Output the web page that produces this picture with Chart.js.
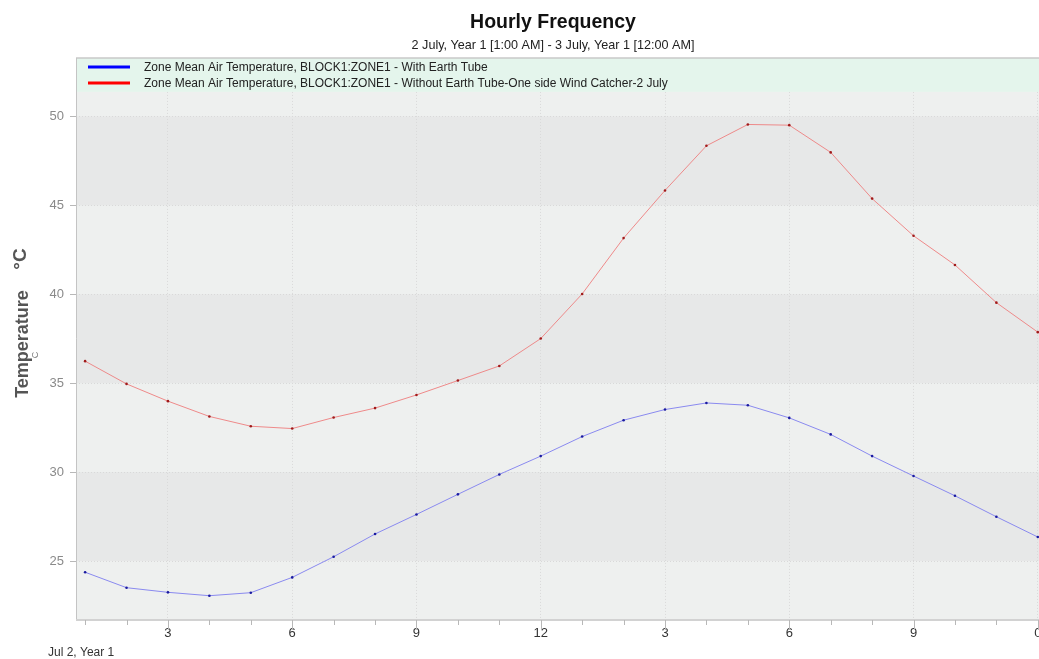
<!DOCTYPE html>
<html>
<head>
<meta charset="utf-8">
<title>Hourly Frequency</title>
<script src="https://cdn.jsdelivr.net/npm/chart.js@4.4.1/dist/chart.umd.min.js"></script>
<style>
    html, body { margin: 0; padding: 0; background: #fff; overflow: hidden; }
    #wrap { width: 1106px; height: 659px; }
</style>
</head>
<body>
<div id="wrap"><canvas id="tempChart"></canvas></div>
<script>
// Data (hour of day, 1:00 .. 24:00)
const hours = [1, 2, 3, 4, 5, 6, 7, 8, 9, 10, 11, 12, 13, 14, 15, 16, 17, 18, 19, 20, 21, 22, 23, 24];
const withEarthTube = [24.37, 23.50, 23.24, 23.05, 23.22, 24.08, 25.24, 26.52, 27.62, 28.75, 29.87, 30.90,
                       32.00, 32.92, 33.52, 33.89, 33.76, 33.05, 32.12, 30.90, 29.78, 28.67, 27.49, 26.35];
const withoutEarthTube = [36.24, 34.96, 33.99, 33.13, 32.58, 32.45, 33.07, 33.60, 34.34, 35.15, 35.97, 37.51,
                          40.02, 43.16, 45.84, 48.35, 49.55, 49.51, 47.98, 45.38, 43.29, 41.65, 39.53, 37.87];
const seriesLabels = [
    'Zone Mean Air Temperature, BLOCK1:ZONE1 - With Earth Tube',
    'Zone Mean Air Temperature, BLOCK1:ZONE1 - Without Earth Tube-One side Wind Catcher-2 July'
];
const majorHours = [3, 6, 9, 12, 15, 18, 21, 24];
const majorLabels = ['3', '6', '9', '12', '3', '6', '9', '0'];
const yTicks = [25, 30, 35, 40, 45, 50];

const toPoints = (vals) => vals.map((v, i) => ({ x: hours[i], y: v }));

// alternating grey bands behind the plot
const bandsPlugin = {
    id: 'bands',
    beforeDraw(chart) {
        const { ctx, chartArea: a, scales: { y } } = chart;
        ctx.save();
        ctx.fillStyle = '#eef0ef';
        ctx.fillRect(a.left, a.top, a.right - a.left, a.bottom - a.top);
        ctx.fillStyle = '#e7e8e8';
        for (let i = 0; i < yTicks.length - 1; i++) {
            if (i % 2 !== 0) continue;
            const y1 = y.getPixelForValue(yTicks[i + 1]);
            const y2 = y.getPixelForValue(yTicks[i]);
            ctx.fillRect(a.left, y1, a.right - a.left, y2 - y1);
        }
        ctx.restore();
    }
};

// axis lines, tick marks, legend box, axis titles
const decorPlugin = {
    id: 'decor',
    afterDraw(chart) {
        const { ctx, chartArea: a, scales: { x, y } } = chart;
        ctx.save();

        // legend box
        const lTop = 58, lBottom = a.top;
        ctx.fillStyle = '#e4f5ec';
        ctx.fillRect(a.left, lTop, chart.width - a.left, lBottom - lTop);
        ctx.strokeStyle = '#c8c8c8';
        ctx.lineWidth = 1.5;
        ctx.beginPath();
        ctx.moveTo(a.left, lTop);
        ctx.lineTo(chart.width, lTop);
        ctx.stroke();

        const legendColors = ['#0000ff', '#ff0000'];
        ctx.font = '12px "Liberation Sans", Arial, sans-serif';
        ctx.textBaseline = 'middle';
        ctx.textAlign = 'left';
        seriesLabels.forEach((label, i) => {
            const ly = 67 + i * 16;
            ctx.strokeStyle = legendColors[i];
            ctx.lineWidth = 3;
            ctx.beginPath();
            ctx.moveTo(88, ly);
            ctx.lineTo(130, ly);
            ctx.stroke();
            ctx.fillStyle = '#222';
            ctx.fillText(label, 144, ly + 1);
        });

        // left axis line
        ctx.strokeStyle = '#c4c4c4';
        ctx.lineWidth = 1;
        ctx.beginPath();
        ctx.moveTo(a.left + 0.5, lTop);
        ctx.lineTo(a.left + 0.5, a.bottom);
        ctx.stroke();

        // bottom axis line
        ctx.strokeStyle = '#d2d2d2';
        ctx.lineWidth = 2;
        ctx.beginPath();
        ctx.moveTo(a.left, a.bottom + 1);
        ctx.lineTo(a.right, a.bottom + 1);
        ctx.stroke();

        // x tick marks
        ctx.strokeStyle = '#b8b8b8';
        ctx.lineWidth = 1;
        hours.forEach(h => {
            const px = Math.round(x.getPixelForValue(h)) + 0.5;
            const len = majorHours.includes(h) ? 10 : 5;
            ctx.beginPath();
            ctx.moveTo(px, a.bottom + 1);
            ctx.lineTo(px, a.bottom + 1 + len);
            ctx.stroke();
        });

        // y tick marks
        yTicks.forEach(v => {
            const py = Math.round(y.getPixelForValue(v)) + 0.5;
            ctx.beginPath();
            ctx.moveTo(a.left - 6, py);
            ctx.lineTo(a.left, py);
            ctx.stroke();
        });

        // date under the axis
        ctx.fillStyle = '#333';
        ctx.font = '12px "Liberation Sans", Arial, sans-serif';
        ctx.fillText('Jul 2, Year 1', 48, 653);

        // y axis title
        ctx.translate(23, 344);
        ctx.rotate(-Math.PI / 2);
        ctx.fillStyle = '#555';
        ctx.textAlign = 'center';
        ctx.font = 'bold 18px "Liberation Sans", Arial, sans-serif';
        ctx.fillText('Temperature', 0, 0);
        ctx.font = 'bold 19px "Liberation Sans", Arial, sans-serif';
        ctx.fillText('°C', 85, -2);
        ctx.font = '9px "Liberation Sans", Arial, sans-serif';
        ctx.fillStyle = '#777';
        ctx.fillText('C', -11, 13);
        ctx.restore();
    }
};

const ctx = document.getElementById('tempChart').getContext('2d');
new Chart(ctx, {
    type: 'line',
    data: {
        datasets: [{
            label: seriesLabels[0],
            data: toPoints(withEarthTube),
            borderColor: '#8a8af0',
            borderWidth: 1,
            pointRadius: 1.3,
            pointBorderWidth: 0,
            pointBackgroundColor: '#1a1aa0',
            tension: 0
        }, {
            label: seriesLabels[1],
            data: toPoints(withoutEarthTube),
            borderColor: '#ee8a8a',
            borderWidth: 1,
            pointRadius: 1.3,
            pointBorderWidth: 0,
            pointBackgroundColor: '#a01a1a',
            tension: 0
        }]
    },
    options: {
        responsive: true,
        maintainAspectRatio: false,
        animation: false,
        layout: { padding: 0 },
        plugins: {
            legend: { display: false },
            tooltip: { enabled: false },
            title: {
                display: true,
                text: 'Hourly Frequency',
                color: '#111',
                font: { family: '"Liberation Sans", Arial, sans-serif', size: 19.5, weight: 'bold' },
                padding: { top: 11, bottom: 0 }
            },
            subtitle: {
                display: true,
                text: '2 July, Year 1 [1:00 AM] - 3 July, Year 1 [12:00 AM]',
                color: '#222',
                font: { family: '"Liberation Sans", Arial, sans-serif', size: 12.6 },
                padding: { top: 3.5, bottom: 38.9 }
            }
        },
        scales: {
            x: {
                type: 'linear',
                min: 0.78,
                max: 25.55,
                afterBuildTicks: (scale) => {
                    scale.ticks = majorHours.map(h => ({ value: h }));
                },
                afterFit: (scale) => { scale.height = 40; },
                ticks: {
                    color: '#333',
                    padding: 7,
                    maxRotation: 0,
                    autoSkip: false,
                    font: { family: '"Liberation Sans", Arial, sans-serif', size: 13 },
                    callback: (value) => majorLabels[majorHours.indexOf(value)]
                },
                grid: { color: '#d9d9d9', lineWidth: 1, drawTicks: false },
                border: { display: false, dash: [1, 2] }
            },
            y: {
                min: 21.74,
                max: 51.38,
                afterBuildTicks: (scale) => {
                    scale.ticks = yTicks.map(v => ({ value: v }));
                },
                afterFit: (scale) => { scale.width = 76; },
                ticks: {
                    color: '#8a8a8a',
                    padding: 12,
                    font: { family: '"Liberation Sans", Arial, sans-serif', size: 13 }
                },
                grid: { color: '#d9d9d9', lineWidth: 1, drawTicks: false },
                border: { display: false, dash: [1, 2] }
            }
        }
    },
    plugins: [bandsPlugin, decorPlugin]
});
</script>
</body>
</html>
